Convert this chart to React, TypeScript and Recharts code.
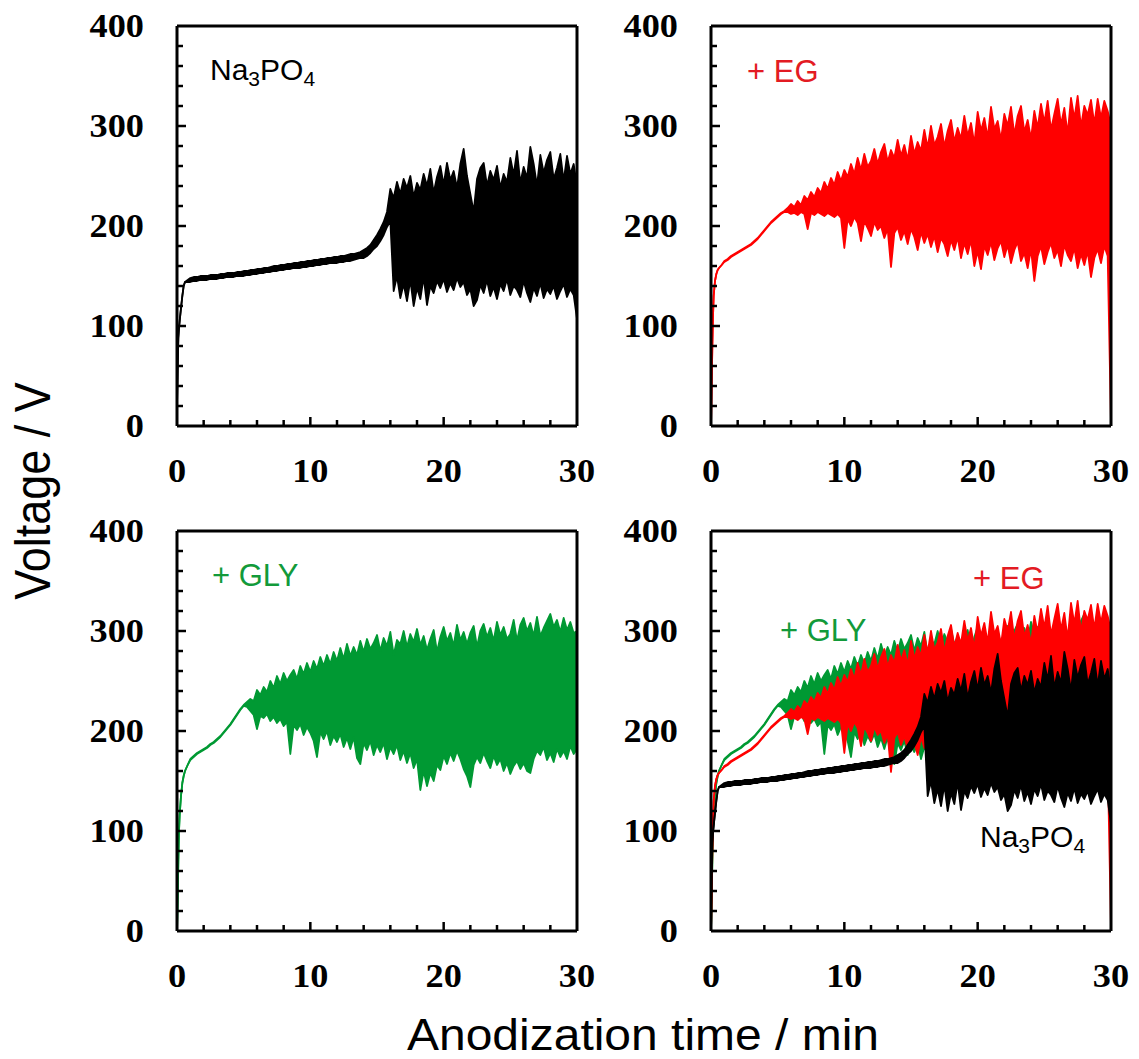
import { ComposedChart, Area, XAxis, YAxis, ReferenceLine } from 'recharts';

// sample times (min); each time holds a high and a low reading of the noisy voltage
const TIME = [
  0, 0.05, 0.1, 0.15, 0.2, 0.3, 0.4, 0.5, 0.6, 0.8,
  1, 1.25, 1.5, 1.75, 2, 2.25, 2.5, 2.75, 3, 3.25, 3.5, 3.75, 4, 4.25, 4.5, 4.75,
  5, 5.25, 5.5, 5.75, 6, 6.25, 6.5, 6.75, 7, 7.25, 7.5, 7.75, 8, 8.25, 8.5, 8.75,
  9, 9.25, 9.5, 9.75, 10, 10.25, 10.5, 10.75, 11, 11.25, 11.5, 11.75, 12, 12.25, 12.5, 12.75,
  13, 13.25, 13.5, 13.75, 14, 14.25, 14.5, 14.75, 15, 15.25, 15.5, 15.75, 16, 16.25, 16.5, 16.75,
  17, 17.25, 17.5, 17.75, 18, 18.25, 18.5, 18.75, 19, 19.25, 19.5, 19.75, 20, 20.25, 20.5, 20.75,
  21, 21.25, 21.5, 21.75, 22, 22.25, 22.5, 22.75, 23, 23.25, 23.5, 23.75, 24, 24.25, 24.5, 24.75,
  25, 25.25, 25.5, 25.75, 26, 26.25, 26.5, 26.75, 27, 27.25, 27.5, 27.75, 28, 28.25, 28.5, 28.75,
  29, 29.25, 29.5, 29.75, 30,
];

// Na3PO4
const naHigh = [
  20, 60, 88, 98, 105, 118, 130, 140, 144, 146,
  148, 149, 149, 150, 150, 150, 151, 151, 151, 152, 152, 153, 153, 153, 154, 154,
  155, 155, 156, 156, 157, 157, 158, 158, 159, 160, 160, 161, 161, 162, 162, 163,
  163, 164, 164, 165, 165, 166, 166, 167, 167, 168, 168, 169, 169, 170, 170, 171,
  172, 172, 173, 174, 176, 178, 181, 186, 191, 197, 204, 214, 237, 228, 244, 232,
  247, 238, 250, 229, 243, 236, 252, 240, 257, 233, 249, 260, 241, 263, 246, 255,
  238, 262, 277, 250, 232, 214, 247, 258, 263, 240, 255, 246, 260, 238, 252, 244,
  268, 251, 275, 243, 259, 248, 279, 262, 240, 271, 253, 266, 274, 247, 258, 272,
  245, 270, 252, 262, 240,
];
const naLow = [
  20, 60, 88, 98, 105, 118, 130, 140, 144, 144,
  144, 145, 145, 146, 146, 146, 147, 147, 147, 148, 148, 149, 149, 149, 150, 150,
  150, 151, 151, 152, 152, 153, 153, 154, 154, 155, 155, 156, 156, 157, 157, 158,
  158, 158, 159, 159, 160, 160, 161, 161, 162, 162, 163, 163, 163, 164, 164, 165,
  165, 166, 167, 168, 168, 170, 173, 177, 180, 185, 191, 199, 205, 135, 150, 128,
  142, 125, 146, 120, 138, 127, 149, 121, 140, 133, 145, 138, 147, 134, 143, 136,
  148, 139, 144, 131, 137, 120, 126, 141, 133, 146, 130, 139, 127, 142, 135, 147,
  131, 140, 136, 129, 145, 133, 124, 138, 130, 143, 128, 137, 132, 140, 127, 135,
  142, 129, 137, 131, 107,
];

// + EG
const egHigh = [
  0, 40, 80, 110, 130, 145, 152, 156, 158, 161,
  165, 167, 170, 172, 174, 176, 178, 180, 182, 185, 188, 192, 196, 200, 204, 207,
  210, 213, 215, 218, 222, 219, 225, 221, 230, 226, 234, 229, 238, 233, 244, 237,
  248, 241, 254, 245, 256, 249, 262, 252, 268, 256, 272, 259, 265, 277, 262, 274,
  282, 264, 276, 268, 286, 270, 281, 266, 290, 272, 284, 275, 296, 278, 300, 281,
  289, 302, 279, 295, 306, 284, 298, 287, 310, 290, 303, 282, 314, 295, 308, 288,
  319, 297, 305, 286, 312, 300, 319, 291, 310, 320, 294, 306, 287, 315, 298, 322,
  303, 325, 296, 312, 327, 301, 318, 292, 328, 307, 330, 299, 320, 311, 326, 302,
  327, 308, 325, 315, 300,
];
const egLow = [
  0, 40, 80, 110, 130, 145, 152, 156, 158, 161,
  164, 166, 169, 171, 173, 175, 177, 179, 181, 184, 187, 191, 195, 199, 203, 206,
  209, 212, 214, 214, 212, 213, 211, 214, 212, 197, 213, 211, 214, 212, 210, 213,
  211, 209, 212, 208, 178, 207, 200, 209, 203, 185, 205, 198, 190, 204, 196, 200,
  188, 197, 159, 193, 199, 186, 195, 182, 197, 189, 176, 194, 183, 192, 179, 190,
  174, 188, 182, 170, 186, 176, 189, 168, 183, 172, 186, 160, 175, 157, 180, 171,
  184, 166, 178, 185, 169, 181, 163, 176, 184, 165, 173, 158, 177, 145, 170, 180,
  162, 174, 183, 168, 176, 160, 181, 171, 165, 178, 158, 172, 161, 175, 149, 168,
  177, 163, 180, 170, 3,
];

// + GLY
const glyHigh = [
  0, 30, 70, 100, 116, 135, 148, 155, 160, 166,
  172, 175, 178, 180, 182, 184, 187, 189, 192, 195, 199, 203, 207, 212, 217, 222,
  226, 229, 232, 230, 241, 236, 244, 239, 250, 243, 255, 247, 258, 250, 256, 261,
  252, 265, 257, 268, 259, 270, 262, 274, 265, 276, 267, 279, 270, 283, 272, 287,
  275, 284, 276, 290, 279, 292, 282, 288, 296, 280, 293, 285, 299, 276, 291, 287,
  300, 284, 297, 289, 302, 286, 295, 281, 292, 301, 279, 294, 304, 290, 298, 285,
  306, 291, 299, 287, 298, 305, 284, 300, 307, 294, 303, 290, 309, 296, 304, 292,
  297, 311, 290, 306, 313, 300, 308, 295, 314, 295, 303, 310, 317, 304, 311, 299,
  313, 301, 309, 298, 300,
];
const glyLow = [
  0, 30, 70, 100, 116, 135, 148, 155, 160, 166,
  171, 174, 177, 179, 181, 183, 186, 188, 191, 194, 198, 202, 206, 211, 216, 221,
  225, 224, 220, 216, 202, 215, 213, 217, 210, 214, 208, 212, 205, 209, 177, 206,
  201, 207, 196, 204, 198, 190, 174, 199, 192, 200, 186, 195, 189, 197, 184, 193,
  182, 194, 173, 167, 188, 181, 190, 176, 186, 179, 188, 172, 184, 177, 186, 171,
  180, 168, 178, 163, 172, 141, 160, 145, 158, 150, 166, 161, 175, 167, 178, 170,
  180, 172, 162, 155, 144, 166, 174, 168, 178, 170, 163, 175, 166, 172, 160, 168,
  157, 165, 170, 162, 168, 160, 158, 172, 180, 176, 184, 171, 178, 169, 182, 174,
  180, 172, 185, 177, 182,
];

const X_TICKS = [0, 2, 4, 6, 8, 10, 12, 14, 16, 18, 20, 22, 24, 26, 28, 30];
const X_LABELS = [0, 10, 20, 30];
const Y_TICKS = [0, 20, 40, 60, 80, 100, 120, 140, 160, 180, 200, 220, 240, 260, 280, 300, 320, 340, 360, 380, 400];
const Y_LABELS = [0, 100, 200, 300, 400];

const BLACK = '#000000';
const RED = '#ff0000';
const GREEN = '#009933';
const RED_TEXT = '#e31b23';
const GREEN_TEXT = '#129a3a';

// each series is drawn as a filled range [low, high] so the noise reads as a solid band
const rows = TIME.map((t, i) => ({
  t,
  na: [naLow[i], naHigh[i]],
  eg: [egLow[i], egHigh[i]],
  gly: [glyLow[i], glyHigh[i]],
}));

const tickFont = {
  fontFamily: "'Liberation Serif', 'Times New Roman', serif",
  fontWeight: 'bold' as const,
  fontSize: 33,
};
const sansFont = "'Liberation Sans', Arial, sans-serif";

const XTick = (props: any) => {
  const { x, y, payload } = props;
  const v = payload.value;
  const major = v % 10 === 0;
  return (
    <g>
      {v > 0 && v < 30 && (
        <line x1={x} x2={x} y1={y} y2={y - (major ? 9 : 6)} stroke={BLACK} strokeWidth={2.5} />
      )}
      {X_LABELS.includes(v) && (
        <text transform={`translate(${x},${y + 56}) scale(1.1,1)`} textAnchor="middle" fill={BLACK} {...tickFont}>
          {v}
        </text>
      )}
    </g>
  );
};

const YTick = (props: any) => {
  const { x, y, payload } = props;
  const v = payload.value;
  const major = v % 100 === 0;
  return (
    <g>
      {v > 0 && v < 400 && (
        <line x1={x} x2={x + (major ? 9 : 6)} y1={y} y2={y} stroke={BLACK} strokeWidth={2.5} />
      )}
      {Y_LABELS.includes(v) && (
        <text transform={`translate(${x - 33},${y + 11}) scale(1.1,1)`} textAnchor="end" fill={BLACK} {...tickFont}>
          {v}
        </text>
      )}
    </g>
  );
};

type Series = { key: 'na' | 'eg' | 'gly'; color: string };

const Panel = ({ left, top, series }: { left: number; top: number; series: Series[] }) => (
  <div style={{ position: 'absolute', left: left - 100, top: top - 20 }}>
    <ComposedChart width={520} height={490} data={rows} margin={{ top: 20, right: 20, bottom: 0, left: 0 }}>
      <XAxis
        dataKey="t"
        type="number"
        domain={[0, 30]}
        ticks={X_TICKS}
        interval={0}
        tick={(p: any) => <XTick {...p} />}
        tickLine={false}
        tickSize={0}
        tickMargin={0}
        height={70}
        axisLine={{ stroke: BLACK, strokeWidth: 3 }}
      />
      <YAxis
        type="number"
        domain={[0, 400]}
        ticks={Y_TICKS}
        interval={0}
        tick={(p: any) => <YTick {...p} />}
        tickLine={false}
        tickSize={0}
        tickMargin={0}
        width={100}
        axisLine={{ stroke: BLACK, strokeWidth: 3 }}
      />
      <ReferenceLine y={400} stroke={BLACK} strokeWidth={3} />
      <ReferenceLine x={30} stroke={BLACK} strokeWidth={3} />
      {series.map((s) => (
        <Area
          key={s.key}
          dataKey={s.key}
          type="linear"
          stroke={s.color}
          strokeWidth={1.8}
          strokeLinejoin="round"
          fill={s.color}
          fillOpacity={1}
          dot={false}
          activeDot={false}
          isAnimationActive={false}
        />
      ))}
    </ComposedChart>
  </div>
);

const Na3PO4 = ({ x, y }: { x: number; y: number }) => (
  <text x={x} y={y} fontFamily={sansFont} fontSize={30} fill={BLACK}>
    Na
    <tspan fontSize={21} dy={6}>3</tspan>
    <tspan dy={-6}>PO</tspan>
    <tspan fontSize={21} dy={6}>4</tspan>
  </text>
);

export default function App() {
  return (
    <div style={{ position: 'absolute', left: 0, top: 0, width: 1139, height: 1059, background: '#fff' }}>
      <Panel left={177} top={26} series={[{ key: 'na', color: BLACK }]} />
      <Panel left={711} top={26} series={[{ key: 'eg', color: RED }]} />
      <Panel left={177} top={531} series={[{ key: 'gly', color: GREEN }]} />
      <Panel
        left={711}
        top={531}
        series={[
          { key: 'gly', color: GREEN },
          { key: 'eg', color: RED },
          { key: 'na', color: BLACK },
        ]}
      />
      <svg width={1139} height={1059} style={{ position: 'absolute', left: 0, top: 0, pointerEvents: 'none' }}>
        <text
          transform="translate(50,491) rotate(-90) scale(1,1.12)"
          textAnchor="middle"
          fontFamily={sansFont}
          fontSize={45}
          fill={BLACK}
        >
          Voltage / V
        </text>
        <text x={407} y={1050} textLength={472} lengthAdjust="spacingAndGlyphs" fontFamily={sansFont} fontSize={45} fill={BLACK}>
          Anodization time / min
        </text>
        <Na3PO4 x={210} y={80} />
        <text x={747} y={82} fontFamily={sansFont} fontSize={31} fill={RED_TEXT}>+ EG</text>
        <text x={212} y={586} fontFamily={sansFont} fontSize={31} fill={GREEN_TEXT}>+ GLY</text>
        <text x={973} y={589} fontFamily={sansFont} fontSize={31} fill={RED_TEXT}>+ EG</text>
        <text x={780} y={641} fontFamily={sansFont} fontSize={31} fill={GREEN_TEXT}>+ GLY</text>
        <Na3PO4 x={980} y={847} />
      </svg>
    </div>
  );
}
